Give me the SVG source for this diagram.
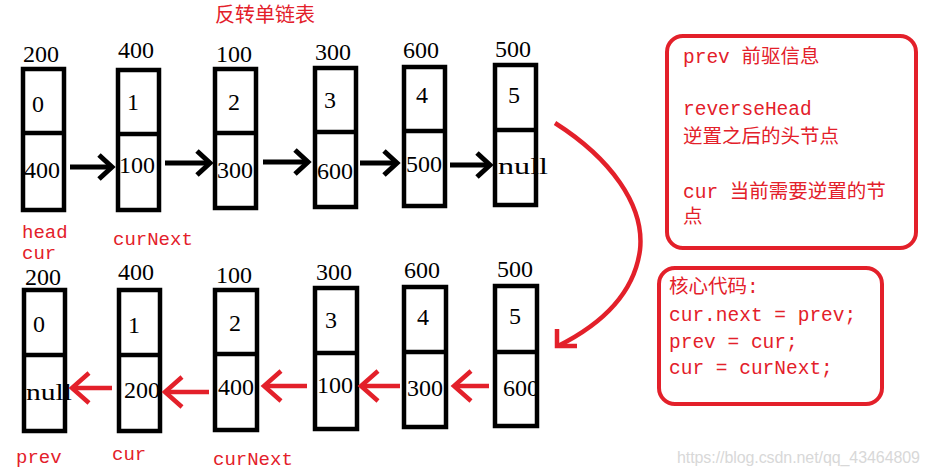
<svg xmlns="http://www.w3.org/2000/svg" width="930" height="476" viewBox="0 0 930 476">
<style>
.box{fill:#fff;stroke:#000;stroke-width:4.5}
.div{stroke:#000;stroke-width:4.5}
.num{font-family:"Liberation Serif","Noto Sans CJK SC",serif;font-size:24px;fill:#000}
.lbl{font-family:"Liberation Mono","Noto Sans CJK SC",monospace;font-size:19px;fill:#e3202a}
.note{font-family:"Liberation Mono","Noto Sans CJK SC",monospace;font-size:19.5px;fill:#e3202a}
.title{font-family:"Noto Sans CJK SC",sans-serif;font-size:20px;fill:#e3202a}
.panel{fill:#fff;stroke:#e3202a;stroke-width:4}
.ab{stroke:#000;stroke-width:5;fill:none}
.ar{stroke:#e3202a;stroke-width:4.5;fill:none}
</style>
<defs>
<marker id="mb" markerUnits="userSpaceOnUse" markerWidth="32" markerHeight="32" refX="16" refY="14" orient="auto">
<path d="M3,2 L16,14 L3,26" stroke="#000" stroke-width="5" fill="none"/>
</marker>
<marker id="mr" markerUnits="userSpaceOnUse" markerWidth="36" markerHeight="40" refX="20" refY="17" orient="auto">
<path d="M3,2 L20,17 L3,32" stroke="#e3202a" stroke-width="4.5" fill="none"/>
</marker>
</defs>
<rect width="930" height="476" fill="#fff"/>
<text class="title" x="215" y="22">反转单链表</text>

<!-- top row -->
<g id="t1"><text class="num" x="23" y="62">200</text><rect class="box" x="23" y="69" width="41" height="141"/><line class="div" x1="23" y1="133" x2="64" y2="133"/><text class="num" x="32" y="112">0</text><text class="num" x="24" y="178">400</text><text class="lbl" x="22" y="238">head</text><text class="lbl" x="22" y="259">cur</text></g>
<g id="t2"><text class="num" x="118" y="58">400</text><rect class="box" x="118" y="70" width="41" height="140"/><line class="div" x1="118" y1="134" x2="159" y2="134"/><text class="num" x="127" y="110">1</text><text class="num" x="119" y="173">100</text><text class="lbl" x="113" y="245">curNext</text></g>
<g id="t3"><text class="num" x="216" y="62">100</text><rect class="box" x="215" y="69" width="41" height="139"/><line class="div" x1="215" y1="133" x2="256" y2="133"/><text class="num" x="228" y="110">2</text><text class="num" x="217" y="178">300</text></g>
<g id="t4"><text class="num" x="315" y="60">300</text><rect class="box" x="315" y="68" width="41" height="139"/><line class="div" x1="315" y1="132" x2="356" y2="132"/><text class="num" x="324" y="108">3</text><text class="num" x="317" y="179">600</text></g>
<g id="t5"><text class="num" x="403" y="58">600</text><rect class="box" x="404" y="67" width="41" height="139"/><line class="div" x1="404" y1="131" x2="445" y2="131"/><text class="num" x="416" y="103">4</text><text class="num" x="406" y="172">500</text></g>
<g id="t6"><text class="num" x="495" y="57">500</text><rect class="box" x="495" y="65" width="41" height="140"/><line class="div" x1="495" y1="130" x2="536" y2="130"/><text class="num" x="508" y="103">5</text><text class="num" x="498" y="174" textLength="50" lengthAdjust="spacingAndGlyphs">null</text></g>

<!-- bottom row -->
<g id="b1"><text class="num" x="25" y="285">200</text><rect class="box" x="24" y="290" width="41" height="141"/><line class="div" x1="24" y1="355" x2="65" y2="355"/><text class="num" x="33" y="332">0</text><text class="num" x="26" y="400" textLength="46" lengthAdjust="spacingAndGlyphs">null</text><text class="lbl" x="16" y="463">prev</text></g>
<g id="b2"><text class="num" x="118" y="280">400</text><rect class="box" x="119" y="290" width="41" height="141"/><line class="div" x1="119" y1="355" x2="160" y2="355"/><text class="num" x="128" y="333">1</text><text class="num" x="124" y="398">200</text><text class="lbl" x="112" y="460">cur</text></g>
<g id="b3"><text class="num" x="216" y="283">100</text><rect class="box" x="215" y="290" width="42" height="140"/><line class="div" x1="215" y1="354" x2="257" y2="354"/><text class="num" x="229" y="331">2</text><text class="num" x="218" y="395">400</text><text class="lbl" x="213" y="465">curNext</text></g>
<g id="b4"><text class="num" x="316" y="280">300</text><rect class="box" x="315" y="288" width="42" height="141"/><line class="div" x1="315" y1="353" x2="357" y2="353"/><text class="num" x="325" y="328">3</text><text class="num" x="317" y="393">100</text></g>
<g id="b5"><text class="num" x="404" y="278">600</text><rect class="box" x="404" y="287" width="42" height="140"/><line class="div" x1="404" y1="352" x2="446" y2="352"/><text class="num" x="417" y="325">4</text><text class="num" x="407" y="396">300</text></g>
<g id="b6"><text class="num" x="497" y="277">500</text><rect class="box" x="495" y="286" width="42" height="140"/><line class="div" x1="495" y1="352" x2="537" y2="352"/><text class="num" x="509" y="324">5</text><text class="num" x="503" y="396">600</text></g>

<!-- notes -->
<g id="note1"><rect class="panel" x="667" y="36" width="249" height="212" rx="16"/>
<text class="note" x="683" y="63">prev 前驱信息</text>
<text class="note" x="683" y="115">reverseHead</text>
<text class="note" x="683" y="143">逆置之后的头节点</text>
<text class="note" x="683" y="198">cur 当前需要逆置的节</text>
<text class="note" x="683" y="223">点</text></g>
<g id="note2"><rect class="panel" x="659" y="268" width="223" height="136" rx="16"/>
<text class="note" x="669" y="293">核心代码:</text>
<text class="note" x="669" y="321">cur.next = prev;</text>
<text class="note" x="669" y="348">prev = cur;</text>
<text class="note" x="669" y="374">cur = curNext;</text></g>

<!-- connectors -->
<g id="connectors">
<line class="ab" x1="70" y1="167" x2="112" y2="167" marker-end="url(#mb)"/>
<line class="ab" x1="165" y1="163" x2="210" y2="163" marker-end="url(#mb)"/>
<line class="ab" x1="263" y1="162" x2="308" y2="162" marker-end="url(#mb)"/>
<line class="ab" x1="360" y1="163" x2="397" y2="163" marker-end="url(#mb)"/>
<line class="ab" x1="450" y1="165" x2="490" y2="165" marker-end="url(#mb)"/>
<line class="ar" x1="112" y1="388" x2="72" y2="388" marker-end="url(#mr)"/>
<line class="ar" x1="209" y1="392" x2="165" y2="392" marker-end="url(#mr)"/>
<line class="ar" x1="307" y1="386" x2="264" y2="386" marker-end="url(#mr)"/>
<line class="ar" x1="400" y1="386" x2="361" y2="386" marker-end="url(#mr)"/>
<line class="ar" x1="489" y1="386" x2="454" y2="386" marker-end="url(#mr)"/>
<path class="ar" d="M555,123 C610,158 645,205 640,250 C634,295 600,325 558,346"/>
<path class="ar" d="M557,329 L557,346 L577,346"/>
</g>
<text x="677" y="463" font-family="Liberation Sans, sans-serif" font-size="16" fill="#d8d8d8" textLength="243">https://blog.csdn.net/qq_43464809</text>
</svg>
